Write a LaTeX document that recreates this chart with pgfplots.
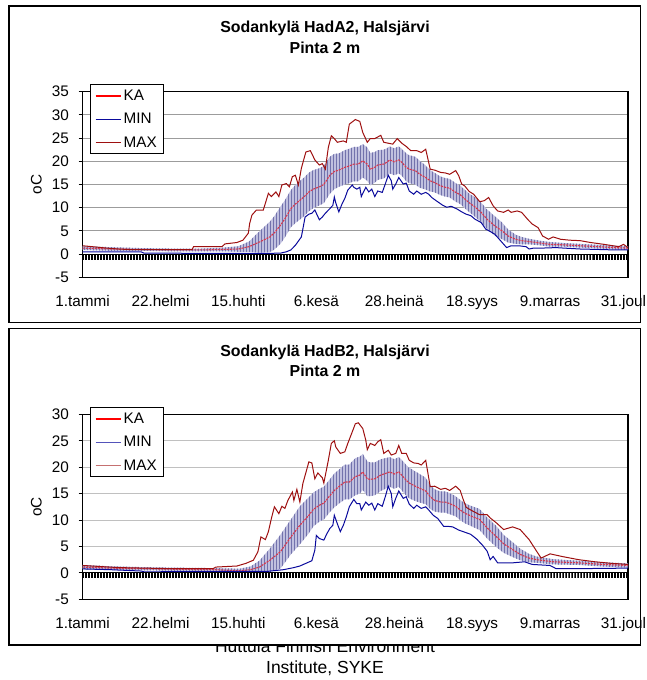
\documentclass[border=0pt]{standalone}
\usepackage{fontspec}
\setmainfont{Liberation Sans}
\usepackage{pgfplots}
\pgfplotsset{compat=1.18}
\usepackage{pgfplotstable}
\usepgfplotslibrary{fillbetween}
\usetikzlibrary{patterns.meta}
\definecolor{kared}{HTML}{FF0000}
\definecolor{kaline}{HTML}{D9364A}
\definecolor{minblue}{HTML}{0A0A9C}
\definecolor{maxred}{HTML}{9E1010}
\definecolor{bandfill}{HTML}{C0C0DF}
\definecolor{bandstripe}{HTML}{7272AC}
\definecolor{gridA}{HTML}{9C9C9C}
\definecolor{gridB}{HTML}{C0C0C0}
\pagecolor{white}

% ---------------- Panel A (HadA2) ----------------
\pgfplotstableread{
d ka sd
1 1.3 0.4
10 1.2 0.4
20 1.1 0.4
40 1.0 0.3
60 0.9 0.3
80 0.9 0.3
95 1.0 0.4
105 1.1 0.6
112 1.6 1.1
119 2.6 2.3
126 3.7 3.3
129 4.6 3.6
133 6.2 4.0
136 7.6 4.0
140 9.8 4.0
143 10.8 4.1
146 11.6 4.15
149 12.4 4.15
152 13.4 4.15
155 14.0 4.1
159 14.5 4.0
162 15.0 4.0
166 17.0 4.0
169 17.8 3.8
172 18.1 3.6
176 18.7 3.7
179 19.0 3.7
182 19.4 3.7
185 19.4 3.7
188 20.1 3.6
191 19.4 3.6
193 18.3 3.5
196 18.7 3.3
198 19.2 3.2
202 19.4 3.1
204 19.8 3.0
206 20.3 2.9
209 19.9 2.9
212 20.3 2.9
214 19.8 2.9
217 18.7 3.0
219 18.3 3.0
223 18.0 3.0
226 17.2 2.9
230 16.5 2.6
233 15.8 2.3
236 15.4 2.1
240 14.7 2.0
243 14.4 2.0
246 14.2 2.0
250 13.3 2.0
253 12.8 2.0
256 11.9 2.0
260 10.8 2.0
262 10.4 2.1
267 9.0 2.1
271 7.5 2.1
276 6.1 2.1
281 5.0 1.8
285 3.9 1.4
290 3.2 1.0
294 2.9 0.8
299 2.7 0.6
306 2.4 0.5
313 2.1 0.5
322 2.0 0.4
333 1.8 0.4
345 1.6 0.4
356 1.4 0.4
365 1.3 0.4
}\kaA

\pgfplotstableread{
d v
1 0.5
40 0.5
42 0.2
120 0.15
133 0.2
137 0.5
140 0.9
143 1.9
147 3.7
149.5 8.0
152 8.6
154 8.8
156 9.5
159 7.4
161 8.0
163 8.8
166 9.8
168 10.5
169 12.3
170 11.0
172 9.1
174 10.7
176 12.0
178 13.8
181 14.9
182 14.4
184 14.0
186 14.4
187 12.4
190 14.4
192 13.4
194 14.0
196 12.4
198 13.6
201 13.3
203 15.1
205 17.0
207 15.8
208 14.0
210 15.1
212 16.5
215 15.1
217 15.3
219 13.6
222 12.9
224 13.6
227 12.9
230 13.3
232 12.9
234 12.2
237 11.5
241 10.6
244 10.1
247 10.3
251 9.7
254 9.1
257 8.6
260 8.3
263 7.5
267 6.8
270 5.4
274 4.7
276 4.3
278 3.6
281 2.5
284 1.4
287 1.8
292 1.8
297 1.6
299 1.1
302 1.3
308 1.3
317 1.4
322 1.3
333 1.1
345 1.0
356 0.9
365 0.9
}\minA

\pgfplotstableread{
d v
1 1.8
17 1.3
25 1.1
34 0.95
74 0.95
75 1.6
94 1.6
96 2.2
104 2.5
108 3.0
111.6 4.5
112.5 6.6
114 8.4
117 9.5
121.6 9.5
125 13.1
127 12.4
130 13.4
132 12.4
134 14.9
137 15.2
139 14.5
141 16.7
143 17.0
145 14.9
147 18.5
150 22.0
153 22.3
156 20.3
159 19.2
161 19.5
163 18.3
165 23.0
167 25.5
169 24.9
171 24.1
175 24.4
177 24.1
179 28.0
183 29.0
186 28.6
188 26.2
191 24.1
193 24.9
196 24.9
200 25.6
202 24.1
205 23.9
208 23.7
211 24.9
214 23.9
217 23.2
220 22.3
224 22.3
227 21.9
230 22.6
233 18.3
236 18.1
240 17.6
243 17.5
246 17.2
250 18.0
252 16.9
254 15.1
256 14.7
259 13.5
262 12.9
266 11.3
269 11.5
272 12.2
275 10.4
278 9.3
282 9.0
285 9.5
287 9.0
291 9.3
294 9.0
298 7.5
301 6.5
305 5.7
308 3.9
312 3.2
315 3.7
320 3.2
326 3.0
333 2.9
340 2.5
349 2.1
359 1.6
362 2.1
365 1.4
}\maxA

% ---------------- Panel B (HadB2) ----------------
\pgfplotstableread{
d ka sd
1 1.1 0.4
20 0.9 0.35
40 0.8 0.3
60 0.7 0.3
90 0.6 0.3
106 0.4 0.4
113 0.6 0.6
119 1.1 1.2
126 2.4 2.2
133 4.0 3.2
140 6.8 3.3
146 9.0 3.6
152 10.9 3.4
155 12.0 3.2
159 12.8 3.1
162 13.2 3.1
166 14.6 3.1
169 15.6 3.2
172 16.3 3.2
176 17.2 3.3
179 17.2 3.3
183 18.2 3.5
186 18.5 3.5
188 19.1 3.4
191 17.8 3.3
193 17.7 3.2
196 17.8 3.1
200 18.5 3.0
203 18.8 2.9
206 19.1 2.8
209 18.7 2.8
212 19.1 2.8
214 18.5 2.9
217 17.5 2.9
219 17.0 2.9
223 16.4 2.8
226 16.0 2.7
230 15.5 2.5
233 14.4 2.3
236 13.7 2.1
240 13.4 2.0
243 13.4 2.0
246 13.1 2.0
250 12.6 1.9
253 11.9 1.9
256 11.3 1.9
260 10.8 1.9
266 10.1 2.0
271 8.5 2.0
277 6.9 2.0
282 5.5 1.7
288 4.4 1.4
293 3.5 1.1
299 2.8 0.8
304 2.5 0.6
315 2.1 0.5
332 1.9 0.4
348 1.6 0.4
365 1.4 0.4
}\kaB

\pgfplotstableread{
d v
1 0.75
20 0.6
40 0.35
42 0.2
125 0.3
128 0.4
135 0.6
142 1.0
146 1.3
150 1.8
154 2.3
156 4.3
157 7.1
159 6.5
162 6.2
164 7.4
166 8.4
168 9.0
169 10.9
171 9.3
173 7.8
175 9.0
177 10.6
179 12.5
182 13.9
184 13.1
186 13.1
187 11.9
190 13.4
192 12.8
194 13.2
196 11.9
198 13.1
201 12.6
203 14.4
205 16.4
207 15.0
208 12.5
210 14.1
212 15.5
215 14.1
217 14.4
219 13.0
222 12.2
224 12.8
227 12.2
230 12.5
232 11.9
235 10.9
238 10.3
242 8.8
245 8.8
248 8.7
252 8.1
255 7.8
260 7.3
264 6.4
268 5.2
271 4.1
273 2.5
275 3.1
278 1.9
288 1.9
296 2.1
301 1.6
313 1.4
317 0.8
332 0.8
365 0.9
}\minB

\pgfplotstableread{
d v
1 1.4
25 1.0
60 0.8
88 0.8
90 1.1
104 1.3
110 1.8
115 2.4
118 4.0
120 6.8
123 6.3
125 7.8
127 10.3
129 12.5
132 11.2
134 12.6
136 12.2
138 13.7
141 15.3
142 13.7
144 15.8
146 13.4
148 16.9
152 21.0
154 20.8
156 17.8
158 18.9
161 18.0
162 17.0
165 21.3
167 24.5
169 25.0
170 23.8
173 22.6
176 22.9
178 24.5
181 26.7
183 28.2
185 28.4
188 27.3
190 25.1
191 23.3
193 24.5
196 24.1
198 24.8
200 25.2
202 22.6
205 23.2
207 22.3
210 22.6
212 24.1
214 22.6
217 22.6
219 21.3
222 20.8
225 20.7
227 20.4
230 21.3
233 16.3
236 16.4
240 15.8
243 16.0
246 15.6
250 16.4
253 15.6
255 13.9
257 12.4
260 11.9
266 11.0
271 11.0
273 10.4
277 9.5
282 8.2
288 8.7
293 8.2
299 6.3
304 4.1
307 2.8
313 3.6
321 3.1
332 2.5
343 2.1
354 1.8
365 1.6
}\maxB

\newcommand{\tickfont}{\fontsize{15.3}{17}\selectfont}

\pgfplotsset{
  panel/.style={
    scale only axis, width=545.4pt,
    xmin=1, xmax=365,
    axis line style={black, line width=1.1pt},
    xtick={1,53,105,157,209,261,313,365},
    xticklabels={1.tammi,22.helmi,15.huhti,6.kesä,28.heinä,18.syys,9.marras,{\kern-9pt 31.joul}},
    x tick style={draw=none},
    xticklabel style={anchor=base, inner sep=0pt, yshift=-24.7pt},
    y tick style={black, line width=0.9pt},
    yticklabel style={anchor=east, inner sep=0pt, xshift=-9.6pt},
    tick align=outside, major tick length=4pt,
    ytick pos=left, xtick pos=bottom,
    ymajorgrids,
    tick label style={font=\tickfont},
    legend cell align=left,
    legend image code/.code={\draw[##1] (0pt,0pt) -- (25pt,0pt);},
    legend style={anchor=north west, draw=black, line width=1pt, fill=white,
      font=\tickfont, row sep=7.5pt, inner xsep=4.5pt, inner ysep=3pt},
  },
  bandstripes/.style={draw=none, pattern={Lines[angle=90,distance=3pt,line width=0.9pt]}, pattern color=bandstripe},
}

\begin{document}
\begin{tikzpicture}
% footer (partly hidden behind the second frame)
\node[anchor=base, font=\fontsize{17.5}{20}\selectfont, inner sep=0pt] at (325pt,-652pt) {Huttula Finnish Environment};
\node[anchor=base, font=\fontsize{17.5}{20}\selectfont, inner sep=0pt] at (325pt,-673pt) {Institute, SYKE};
\fill[white] (9pt,-634pt) rectangle (640.5pt,-645pt);

% frames
\draw[black, line width=1.3pt] (9pt,-6pt) rectangle (640.5pt,-322.7pt);
\draw[black, line width=1.3pt] (9pt,-328.5pt) rectangle (640.5pt,-645pt);

% ---------- Panel A ----------
\begin{axis}[panel, at={(82.6pt,-277.3pt)}, anchor=south west, height=185.6pt,
  ymin=-5, ymax=35, ytick={-5,0,5,10,15,20,25,30,35},
  yticklabels={-5,0,5,10,15,20,25,30,35},
  grid style={gridA, line width=0.9pt},
  legend style={at={(0.013,1.0415)}}]
\addlegendimage{kared, line width=2pt}\addlegendentry{KA}
\addlegendimage{minblue, line width=1pt}\addlegendentry{MIN}
\addlegendimage{maxred, line width=1pt}\addlegendentry{MAX}
\addplot[draw=none, name path=upA, forget plot] table[x=d, y expr=\thisrow{ka}+\thisrow{sd}]{\kaA};
\addplot[draw=none, name path=loA, forget plot] table[x=d, y expr=\thisrow{ka}-\thisrow{sd}]{\kaA};
\addplot[fill=bandfill, draw=none, forget plot] fill between[of=upA and loA];
\addplot[bandstripes, forget plot] fill between[of=upA and loA];
\addplot[kaline, line width=1.1pt, dash pattern=on 2pt off 1pt, forget plot] table[x=d, y=ka]{\kaA};
\addplot[minblue, line width=1pt, forget plot] table[x=d, y=v]{\minA};
\addplot[maxred, line width=1pt, forget plot] table[x=d, y=v]{\maxA};
\draw[black, line width=1pt] (axis cs:1,0) -- (axis cs:365,0);
\fill[pattern={Lines[angle=90,distance=1.4986pt,line width=0.9pt]}, pattern color=black] (axis cs:1,0) rectangle (axis cs:365,-1.08);
\end{axis}

% ---------- Panel B ----------
\begin{axis}[panel, at={(82.6pt,-599.3pt)}, anchor=south west, height=185pt,
  ymin=-5, ymax=30, ytick={-5,0,5,10,15,20,25,30},
  yticklabels={-5,0,5,10,15,20,25,30},
  grid style={gridB, line width=0.9pt},
  legend style={at={(0.013,1.038)}}]
\addlegendimage{kared, line width=2pt}\addlegendentry{KA}
\addlegendimage{minblue!70!white, line width=1pt}\addlegendentry{MIN}
\addlegendimage{maxred!60!white, line width=1pt}\addlegendentry{MAX}
\addplot[draw=none, name path=upB, forget plot] table[x=d, y expr=\thisrow{ka}+\thisrow{sd}]{\kaB};
\addplot[draw=none, name path=loB, forget plot] table[x=d, y expr=\thisrow{ka}-\thisrow{sd}]{\kaB};
\addplot[fill=bandfill, draw=none, forget plot] fill between[of=upB and loB];
\addplot[bandstripes, forget plot] fill between[of=upB and loB];
\addplot[kaline, line width=1.1pt, dash pattern=on 2pt off 1pt, forget plot] table[x=d, y=ka]{\kaB};
\addplot[minblue, line width=1pt, forget plot] table[x=d, y=v]{\minB};
\addplot[maxred, line width=1pt, forget plot] table[x=d, y=v]{\maxB};
\draw[black, line width=1pt] (axis cs:1,0) -- (axis cs:365,0);
\fill[pattern={Lines[angle=90,distance=1.4986pt,line width=0.9pt]}, pattern color=black] (axis cs:1,0) rectangle (axis cs:365,-0.95);
\end{axis}

% titles and axis titles
\begin{scope}[font=\bfseries\fontsize{15.9}{18}\selectfont]
\node[anchor=base, inner sep=0pt] at (325pt,-32.7pt) {Sodankylä HadA2, Halsjärvi};
\node[anchor=base, inner sep=0pt] at (325pt,-53.3pt) {Pinta 2 m};
\node[anchor=base, inner sep=0pt] at (325pt,-356pt) {Sodankylä HadB2, Halsjärvi};
\node[anchor=base, inner sep=0pt] at (325pt,-376.7pt) {Pinta 2 m};
\end{scope}
\node[rotate=90, font=\tickfont, inner sep=0pt] at (36.4pt,-184.5pt) {oC};
\node[rotate=90, font=\tickfont, inner sep=0pt] at (36.4pt,-506.8pt) {oC};

\pgfresetboundingbox
\path (0pt,0pt) rectangle (647pt,-680pt);
\end{tikzpicture}
\end{document}
